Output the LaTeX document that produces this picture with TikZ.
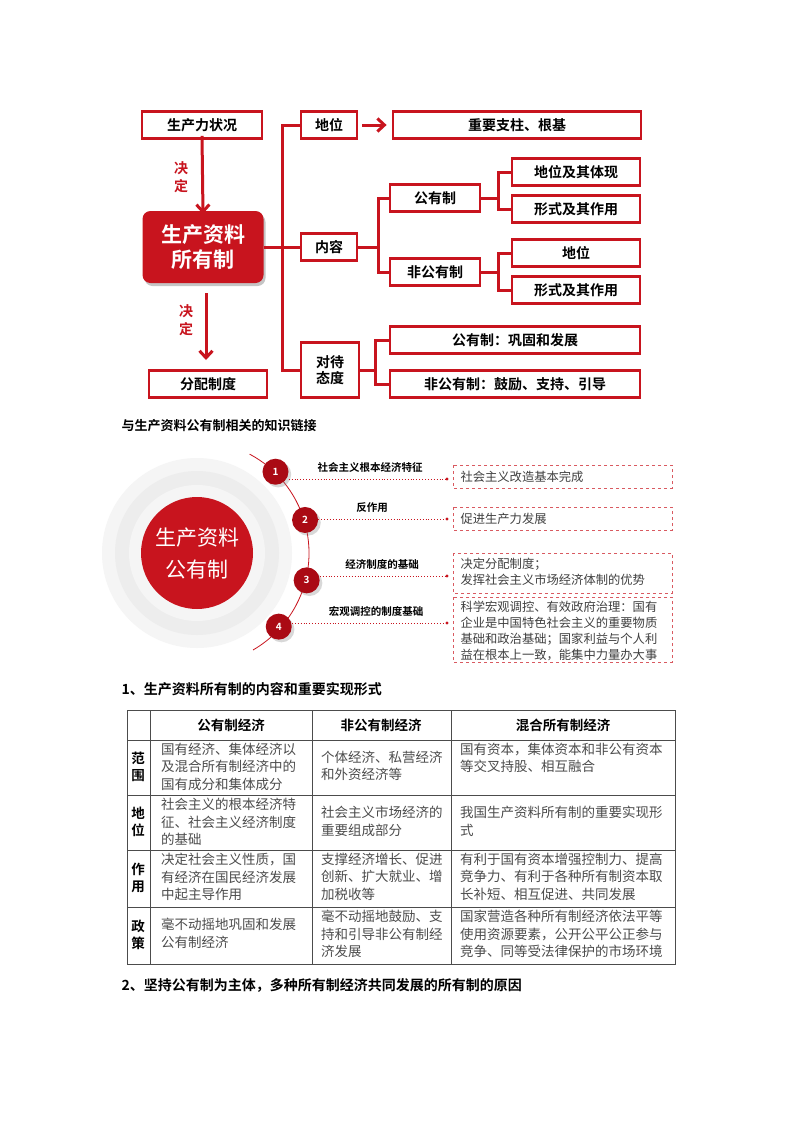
\documentclass[tikz,border=0pt]{standalone}
\usepackage{fontspec}
\setmainfont{Noto Sans CJK SC}[BoldFont={Noto Sans CJK SC Bold}]
\usetikzlibrary{shadows,calc,arrows.meta}
\definecolor{rd}{RGB}{200,20,30}
\definecolor{drd}{RGB}{170,10,20}
\tikzset{
 rbox/.style={draw=rd,line width=2.8pt,fill=white,minimum height=27pt,inner sep=0pt,font=\fontsize{14}{16}\selectfont\bfseries,drop shadow={shadow xshift=1pt,shadow yshift=-1pt,opacity=0.25}},
 conn/.style={draw=rd,line width=3pt},
 lbl/.style={font=\fontsize{10.5}{12}\selectfont\bfseries},
 dbox/.style={draw=rd!70,dashed,line width=0.6pt,anchor=north west,inner sep=0pt},
 dtxt/.style={anchor=north west,align=left,text=black!75,font=\fontsize{12.3}{16}\selectfont},
 num/.style={circle,fill=drd,minimum size=26pt,inner sep=0pt,text=white,font=\fontsize{10}{12}\selectfont\bfseries,drop shadow={opacity=0.3}},
 cell/.style={anchor=north west,align=left,inner sep=0pt,text=black!70,font=\fontsize{13.5}{17.4}\selectfont},
 hd/.style={font=\fontsize{13.5}{16}\selectfont\bfseries},
 rl/.style={align=center,font=\fontsize{13.5}{17.4}\selectfont\bfseries},
 grid/.style={draw=black!70,line width=0.6pt}
}
\begin{document}
\begin{tikzpicture}[x=1pt,y=-1pt]
\useasboundingbox (0,0) rectangle (800,1132);
\fill[white] (0,0) rectangle (800,1132);
% ---------- top diagram
\node[rbox,minimum width=120pt] (pl) at (202,125) {生产力状况};
\node[rbox,minimum width=56pt] (dw) at (329,125) {地位};
\node[rbox,minimum width=248pt] (zy) at (517,125) {重要支柱、根基};
\node[rounded corners=8pt,fill=rd,minimum width=121pt,minimum height=72pt,text=white,align=center,
  font=\fontsize{21}{25}\selectfont\bfseries,drop shadow={shadow xshift=2pt,shadow yshift=-3pt,opacity=0.45}] (ct) at (203,247) {生产资料\\所有制};
\node[rbox,minimum width=56pt] (nr) at (329,247) {内容};
\node[rbox,minimum width=90pt] (gy) at (435,198) {公有制};
\node[rbox,minimum width=128pt] (gy1) at (576,172) {地位及其体现};
\node[rbox,minimum width=128pt] (gy2) at (576,209) {形式及其作用};
\node[rbox,minimum width=90pt] (fg) at (435,272) {非公有制};
\node[rbox,minimum width=128pt] (fg1) at (576,253) {地位};
\node[rbox,minimum width=128pt] (fg2) at (576,290) {形式及其作用};
\node[rbox,minimum width=58pt,minimum height=55pt,align=center] (dd) at (330,370) {对待\\态度};
\node[rbox,minimum width=250pt] (dd1) at (515,340) {公有制：巩固和发展};
\node[rbox,minimum width=250pt] (dd2) at (515,384) {非公有制：鼓励、支持、引导};
\node[rbox,minimum width=118pt] (fp) at (208,384) {分配制度};
\coordinate (t1) at (282,125);
\coordinate (t3) at (282,370);
\draw[conn] (dw.west) -- (t1) -- (t3) -- (dd.west);
\draw[conn] (ct.east) -- (nr.west);
\draw[conn] (nr.east) -- ++(20,0) coordinate (j1);
\draw[conn] (gy.west) -| (j1) |- (fg.west);
\draw[conn] (gy.east) -- ++(17,0) coordinate (j2);
\draw[conn] (gy1.west) -| (j2) |- (gy2.west);
\draw[conn] (fg.east) -- ++(17,0) coordinate (j3);
\draw[conn] (fg1.west) -| (j3) |- (fg2.west);
\draw[conn] (dd.east) -- ++(15,0) coordinate (j4);
\draw[conn] (dd1.west) -| (j4) |- (dd2.west);
\draw[conn,-{Straight Barb[length=7pt,width=13pt]}] ([xshift=4pt]dw.east) -- ([xshift=-5pt]zy.west);
\draw[conn,-{Straight Barb[length=7pt,width=13pt]}] ([yshift=4pt]pl.south) -- ([yshift=-3pt]ct.north);
\coordinate (a2) at (206,293);
\draw[conn,-{Straight Barb[length=7pt,width=13pt]}] (a2) -- (a2 |- 0,360);
\node[text=rd,align=center,font=\fontsize{14}{18}\selectfont\bfseries] at (181,177) {决\\定};
\node[text=rd,align=center,font=\fontsize{14}{18}\selectfont\bfseries] at (186,320) {决\\定};
% ---------- heading
\node[anchor=west,font=\fontsize{13}{15}\selectfont\bfseries] (h0) at (118,426) {与生产资料公有制相关的知识链接};
% ---------- second diagram
\coordinate (c) at (197,553);
\fill[black!4] (c) circle (95);
\fill[black!7] (c) circle (82);
\fill[black!4] (c) circle (68);
\node[circle,fill=rd,minimum size=112pt,inner sep=0pt,text=white,align=center,font=\fontsize{21}{32}\selectfont] (pc) at (c) {生产资料\\公有制};
\draw[rd,line width=0.8pt] ($(c)+(-62:112)$) arc[start angle=-62,end angle=60,radius=112];
\node[num] (n1) at ($(c)+(-46:113)$) {1};
\node[num] (n2) at ($(c)+(-17:113)$) {2};
\node[num] (n3) at ($(c)+(14:113)$) {3};
\node[num] (n4) at ($(c)+(42:110)$) {4};
\foreach \i/\y in {1/479,2/519,3/576,4/623}{
 \coordinate (e\i) at (447,\y);
 \draw[rd,dotted,line width=0.9pt] (n\i.east |- e\i) -- (e\i);
 \fill[rd] (e\i) circle (1.6);
}
\node[lbl] (l1) at (370,467) {社会主义根本经济特征};
\node[lbl] (l2) at (372,508) {反作用};
\node[lbl] (l3) at (382,564) {经济制度的基础};
\node[lbl] (l4) at (376,611) {宏观调控的制度基础};
\draw[dbox] (453,465) rectangle (672,488);
\draw[dbox] (453,507) rectangle (672,530);
\draw[dbox] (453,553) rectangle (672,593);
\draw[dbox] (453,597) rectangle (672,662);
\node[dtxt] (b1) at (457,468) {社会主义改造基本完成};
\node[dtxt] (b2) at (457,510) {促进生产力发展};
\node[dtxt] (b3) at (457,555) {决定分配制度；\\发挥社会主义市场经济体制的优势};
\node[dtxt] (b4) at (457,598) {科学宏观调控、有效政府治理：国有\\企业是中国特色社会主义的重要物质\\基础和政治基础；国家利益与个人利\\益在根本上一致，能集中力量办大事};
% ---------- heading 1
\node[anchor=west,font=\fontsize{14}{16}\selectfont\bfseries] (h1) at (118,689) {1、生产资料所有制的内容和重要实现形式};
% ---------- table
\draw[grid] (127,710) rectangle (675,964);
\foreach \yy in {740,795,850,907} \draw[grid] (127,\yy) -- (675,\yy);
\foreach \xx in {150,312,451} \draw[grid] (\xx,710) -- (\xx,964);
\node[hd] at (231,725) {公有制经济};
\node[hd] at (381,725) {非公有制经济};
\node[hd] at (563,725) {混合所有制经济};
\node[rl] at (138,767) {范\\围};
\node[rl] at (138,822) {地\\位};
\node[rl] at (138,878) {作\\用};
\node[rl] at (138,935) {政\\策};
\node[cell] at (161,743) {国有经济、集体经济以\\及混合所有制经济中的\\国有成分和集体成分};
\node[cell] at (321,751) {个体经济、私营经济\\和外资经济等};
\node[cell] at (460,743) {国有资本，集体资本和非公有资本\\等交叉持股、相互融合};
\node[cell] at (161,798) {社会主义的根本经济特\\征、社会主义经济制度\\的基础};
\node[cell] at (321,806) {社会主义市场经济的\\重要组成部分};
\node[cell] at (460,806) {我国生产资料所有制的重要实现形\\式};
\node[cell] at (161,853) {决定社会主义性质，国\\有经济在国民经济发展\\中起主导作用};
\node[cell] at (321,853) {支撑经济增长、促进\\创新、扩大就业、增\\加税收等};
\node[cell] at (460,853) {有利于国有资本增强控制力、提高\\竞争力、有利于各种所有制资本取\\长补短、相互促进、共同发展};
\node[cell] at (161,918) {毫不动摇地巩固和发展\\公有制经济};
\node[cell] at (321,910) {毫不动摇地鼓励、支\\持和引导非公有制经\\济发展};
\node[cell] at (460,910) {国家营造各种所有制经济依法平等\\使用资源要素，公开公平公正参与\\竞争、同等受法律保护的市场环境};
% ---------- heading 2
\node[anchor=west,font=\fontsize{14}{16}\selectfont\bfseries] (h2) at (118,985) {2、坚持公有制为主体，多种所有制经济共同发展的所有制的原因};
\end{tikzpicture}
\end{document}
